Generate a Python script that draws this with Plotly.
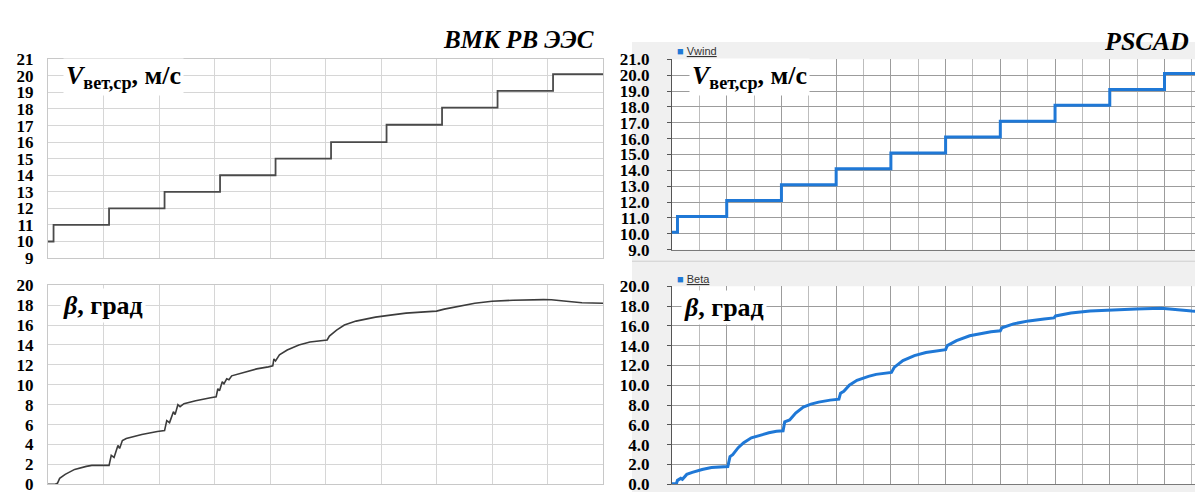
import plotly.graph_objects as go

W, H = 1203, 494

# ---------------- data ----------------
# Left (ВМК РВ ЭЭС)
vmk_wind_t = [0, 1, 11, 21, 31, 41, 51, 61, 71, 81, 91, 100]
vmk_wind_v = [10, 11, 12, 13, 14, 15, 16, 17.05, 18.08, 19.1, 20.1, 20.1]

vmk_beta_t = [0, 1.3, 1.7, 2.1, 3.1, 4.8, 6.9, 7.9, 11.0, 11.4, 11.9, 12.6, 12.9, 13.4, 14.1,
              16.9, 19.7, 21.0, 21.4, 21.9, 22.6, 22.9, 23.4, 23.8, 24.5, 26.6, 29.3, 30.3,
              30.6, 30.9, 31.4, 31.7, 32.2, 32.6, 33.1, 35.5, 37.6, 39.7, 40.5, 40.7, 41.0,
              41.7, 43.1, 45.2, 47.2, 50.3, 50.7, 52.0, 53.4, 55.5, 59.0, 61.7, 64.5, 67.2,
              70.0, 71.4, 74.1, 76.9, 80.0, 83.8, 89.3, 90.7, 93.4, 96.2, 100]
vmk_beta_v = [0, 0, 0.1, 0.6, 1.0, 1.5, 1.8, 1.9, 1.9, 2.9, 2.7, 3.9, 3.6, 4.4, 4.6,
              5.0, 5.3, 5.4, 6.4, 6.2, 7.3, 7.0, 8.0, 7.8, 8.1, 8.4, 8.7, 8.8,
              9.6, 9.4, 10.3, 10.1, 10.6, 10.5, 10.9, 11.3, 11.6, 11.8, 11.9, 12.6, 12.4,
              13.0, 13.5, 14.0, 14.3, 14.5, 14.9, 15.5, 16.0, 16.4, 16.8, 17.0, 17.2, 17.3,
              17.4, 17.6, 17.9, 18.2, 18.4, 18.5, 18.56, 18.55, 18.4, 18.25, 18.2]

# Right (PSCAD)
pscad_wind_t = [0, 1, 10, 20, 30, 40, 50, 60, 70, 80, 90, 100]
pscad_wind_v = [10.1, 11.1, 12.1, 13.1, 14.1, 15.1, 16.1, 17.1, 18.1, 19.1, 20.1, 20.1]

pscad_beta_t = [0, 0.8, 1.0, 1.6, 1.9, 2.7, 3.7, 5.5, 7.2, 9.3, 10.2, 10.6, 11.1, 12.1, 13.1,
                14.5, 16.3, 17.7, 19.1, 20.3, 20.6, 21.5, 22.6, 24.0, 25.4, 26.8, 28.9, 30.5,
                30.8, 31.4, 32.4, 33.8, 35.9, 37.3, 40.1, 40.6, 42.2, 44.3, 46.4, 48.5, 50.0,
                50.3, 52.0, 54.4, 56.2, 58.3, 60.0, 60.3, 62.4, 65.2, 68.0, 69.8, 70.1, 72.9,
                76.4, 79.9, 84.8, 89.4, 91.8, 93.2, 95.0, 98.5]
pscad_beta_v = [0.05, 0.05, 0.4, 0.6, 0.5, 1.0, 1.2, 1.5, 1.7, 1.8, 1.8, 2.8, 3.0, 3.7, 4.2,
                4.7, 5.0, 5.2, 5.35, 5.4, 6.3, 6.5, 7.2, 7.8, 8.1, 8.3, 8.5, 8.6,
                9.2, 9.4, 10.0, 10.5, 10.9, 11.1, 11.3, 11.8, 12.5, 13.0, 13.3, 13.5, 13.6,
                14.0, 14.5, 15.0, 15.2, 15.4, 15.5, 15.8, 16.2, 16.5, 16.7, 16.8, 17.0, 17.3,
                17.5, 17.6, 17.7, 17.77, 17.65, 17.55, 17.5, 17.4]

wind_ticks = list(range(9, 22))
beta_ticks = list(range(0, 21, 2))

# ---------------- helpers ----------------
def px_x(x):
    return x / W

def px_y(y):
    return (H - y) / H

LX0, LX1 = 40, 595
RX0 = 664
TOP_L = (44, 250.7)
BOT_L = (279, 486)
TOP_R = (44, 242)
BOT_R = (280, 486)

SERIF = "Liberation Serif, Times New Roman, Tinos, DejaVu Serif, serif"

fig = go.Figure()

fig.add_trace(go.Scatter(x=vmk_wind_t, y=vmk_wind_v, mode="lines", line_shape="hv",
                         line=dict(color="#4a4a4a", width=1.8), xaxis="x", yaxis="y",
                         showlegend=False))
fig.add_trace(go.Scatter(x=vmk_beta_t, y=vmk_beta_v, mode="lines",
                         line=dict(color="#3c3c3c", width=1.6), xaxis="x2", yaxis="y2",
                         showlegend=False))
fig.add_trace(go.Scatter(x=pscad_wind_t, y=pscad_wind_v, mode="lines", line_shape="hv",
                         line=dict(color="#1f78d6", width=3), xaxis="x3", yaxis="y3",
                         showlegend=False))
fig.add_trace(go.Scatter(x=pscad_beta_t, y=pscad_beta_v, mode="lines",
                         line=dict(color="#1f78d6", width=3), xaxis="x4", yaxis="y4",
                         showlegend=False))

tick_font = dict(family=SERIF, size=17, color="black", weight="bold")
tick_font_r = dict(family=SERIF, size=17, color="black", weight="bold")

left_x = dict(domain=[px_x(LX0), px_x(LX1)], range=[0, 100], dtick=10, showticklabels=False,
              showgrid=True, gridcolor="#d6d6d6", gridwidth=1.3, zeroline=False,
              showline=True, mirror=True, linecolor="#c8c8c8", linewidth=1, ticks="")
right_x = dict(domain=[px_x(RX0), 1], range=[0, 98.5], dtick=10, showticklabels=False,
               showgrid=True, gridcolor="#9c9c9c", gridwidth=1, zeroline=False,
               minor=dict(dtick=5, showgrid=True, gridcolor="#bdbdbd", gridwidth=1),
               showline=True, linecolor="#7a7a7a", linewidth=1, ticks="")

fig.update_layout(
    width=W, height=H, margin=dict(l=0, r=0, t=0, b=0),
    paper_bgcolor="white", plot_bgcolor="rgba(0,0,0,0)",
    font=dict(family=SERIF),
    xaxis=dict(left_x, anchor="y"),
    yaxis=dict(domain=[px_y(TOP_L[1]), px_y(TOP_L[0])], range=[9, 21], tickvals=wind_ticks,
               anchor="x", showgrid=True, gridcolor="#d6d6d6", gridwidth=1.3, zeroline=False,
               showline=True, mirror=True, linecolor="#c8c8c8", ticks="", ticklabelstandoff=10,
               tickfont=tick_font),
    xaxis2=dict(left_x, anchor="y2"),
    yaxis2=dict(domain=[px_y(BOT_L[1]), px_y(BOT_L[0])], range=[0, 20], tickvals=beta_ticks,
                anchor="x2", showgrid=True, gridcolor="#d6d6d6", gridwidth=1.3, zeroline=False,
                showline=True, mirror=True, linecolor="#c8c8c8", ticks="", ticklabelstandoff=10,
                tickfont=tick_font),
    xaxis3=dict(right_x, anchor="y3"),
    yaxis3=dict(domain=[px_y(TOP_R[1]), px_y(TOP_R[0])], range=[9, 21], tickvals=wind_ticks,
                tickformat=".1f", anchor="x3", showgrid=True, gridcolor="#9c9c9c", gridwidth=1,
                zeroline=False, showline=True, linecolor="#555555", ticks="outside", ticklen=4,
                tickcolor="#555555", ticklabelstandoff=14, tickfont=tick_font_r),
    xaxis4=dict(right_x, anchor="y4"),
    yaxis4=dict(domain=[px_y(BOT_R[1]), px_y(BOT_R[0])], range=[0, 20], tickvals=beta_ticks,
                tickformat=".1f", anchor="x4", showgrid=True, gridcolor="#9c9c9c", gridwidth=1,
                zeroline=False, showline=True, linecolor="#555555", ticks="outside", ticklen=4,
                tickcolor="#555555", ticklabelstandoff=14, tickfont=tick_font_r),
)

# backgrounds of PSCAD panels
shapes = [
    dict(type="rect", xref="paper", yref="paper", x0=px_x(624), x1=1, y0=0, y1=px_y(26),
         fillcolor="#f0f0f0", line=dict(width=0), layer="below"),
    dict(type="rect", xref="paper", yref="paper", x0=px_x(RX0), x1=1, y0=px_y(TOP_R[1]),
         y1=px_y(TOP_R[0]), fillcolor="white", line=dict(width=0), layer="below"),
    dict(type="rect", xref="paper", yref="paper", x0=px_x(RX0), x1=1, y0=px_y(BOT_R[1]),
         y1=px_y(BOT_R[0]), fillcolor="white", line=dict(width=0), layer="below"),
    dict(type="line", xref="paper", yref="paper", x0=px_x(624), x1=1, y0=px_y(254),
         y1=px_y(254), line=dict(color="#cfcfcf", width=1), layer="below"),
]
fig.update_layout(shapes=shapes)

ann = []
ann.append(dict(text="<b><i>ВМК РВ ЭЭС</i></b>", x=px_x(588), y=px_y(23), xref="paper",
                yref="paper", xanchor="right", yanchor="middle", showarrow=False,
                font=dict(family=SERIF, size=25, color="black")))
ann.append(dict(text="<b><i>PSCAD</i></b>", x=px_x(1183), y=px_y(25), xref="paper",
                yref="paper", xanchor="right", yanchor="middle", showarrow=False,
                font=dict(family=SERIF, size=26, color="black")))
v_label = "<b><i>V</i><sub>вет,ср</sub>, м/с</b>"
b_label = "<b><i>β</i>, град</b>"
for xl, yl, txt in [(55, 62, v_label), (681, 62, v_label), (52, 300, b_label), (673, 302, b_label)]:
    ann.append(dict(text=txt, x=px_x(xl), y=px_y(yl), xref="paper", yref="paper",
                    xanchor="left", yanchor="middle", showarrow=False, bgcolor="white",
                    borderpad=2, font=dict(family=SERIF, size=26, color="black")))
for yl, name in [(35, "Vwind"), (272, "Beta")]:
    ann.append(dict(text="<span style='color:#1f78d6'>■</span> <u>" + name + "</u>",
                    x=px_x(667), y=px_y(yl), xref="paper", yref="paper", xanchor="left",
                    yanchor="middle", showarrow=False,
                    font=dict(family="Liberation Sans, Arial, sans-serif", size=11,
                              color="#333333")))
fig.update_layout(annotations=ann)

fig.write_html("out.html")
